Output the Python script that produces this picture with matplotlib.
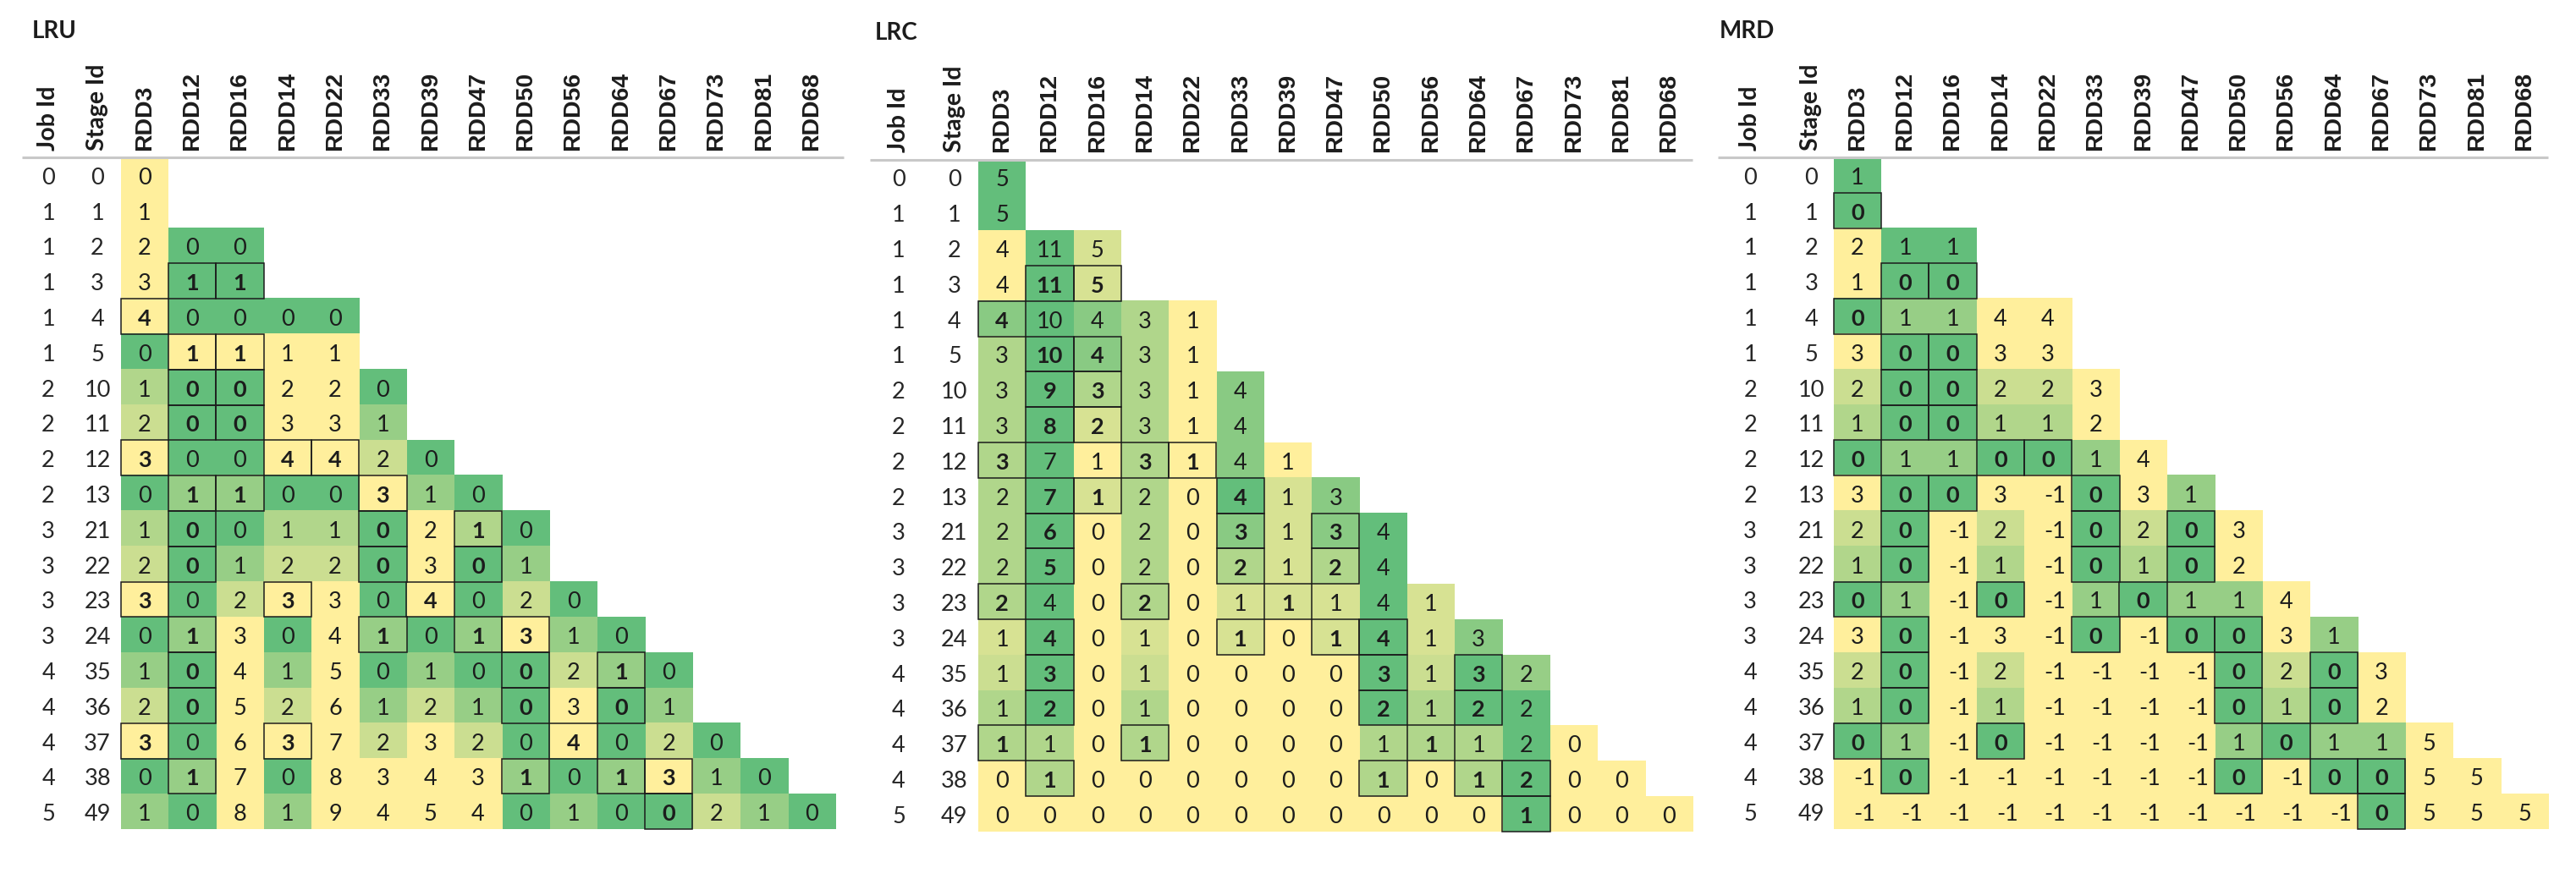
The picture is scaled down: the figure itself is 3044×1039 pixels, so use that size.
import numpy as np
import matplotlib
matplotlib.use('Agg')
import matplotlib.pyplot as plt
from matplotlib.colors import LinearSegmentedColormap
from matplotlib.patches import Rectangle

# Stage rows and RDD columns shared by all three tables
jobs = [0, 1, 1, 1, 1, 1, 2, 2, 2, 2, 3, 3, 3, 3, 4, 4, 4, 4, 5]
stages = [0, 1, 2, 3, 4, 5, 10, 11, 12, 13, 21, 22, 23, 24, 35, 36, 37, 38, 49]
rdds = ["RDD3", "RDD12", "RDD16", "RDD14", "RDD22", "RDD33", "RDD39", "RDD47",
        "RDD50", "RDD56", "RDD64", "RDD67", "RDD73", "RDD81", "RDD68"]

lru = [
    [0],
    [1],
    [2, 0, 0],
    [3, 1, 1],
    [4, 0, 0, 0, 0],
    [0, 1, 1, 1, 1],
    [1, 0, 0, 2, 2, 0],
    [2, 0, 0, 3, 3, 1],
    [3, 0, 0, 4, 4, 2, 0],
    [0, 1, 1, 0, 0, 3, 1, 0],
    [1, 0, 0, 1, 1, 0, 2, 1, 0],
    [2, 0, 1, 2, 2, 0, 3, 0, 1],
    [3, 0, 2, 3, 3, 0, 4, 0, 2, 0],
    [0, 1, 3, 0, 4, 1, 0, 1, 3, 1, 0],
    [1, 0, 4, 1, 5, 0, 1, 0, 0, 2, 1, 0],
    [2, 0, 5, 2, 6, 1, 2, 1, 0, 3, 0, 1],
    [3, 0, 6, 3, 7, 2, 3, 2, 0, 4, 0, 2, 0],
    [0, 1, 7, 0, 8, 3, 4, 3, 1, 0, 1, 3, 1, 0],
    [1, 0, 8, 1, 9, 4, 5, 4, 0, 1, 0, 0, 2, 1, 0],
]

lrc = [
    [5],
    [5],
    [4, 11, 5],
    [4, 11, 5],
    [4, 10, 4, 3, 1],
    [3, 10, 4, 3, 1],
    [3, 9, 3, 3, 1, 4],
    [3, 8, 2, 3, 1, 4],
    [3, 7, 1, 3, 1, 4, 1],
    [2, 7, 1, 2, 0, 4, 1, 3],
    [2, 6, 0, 2, 0, 3, 1, 3, 4],
    [2, 5, 0, 2, 0, 2, 1, 2, 4],
    [2, 4, 0, 2, 0, 1, 1, 1, 4, 1],
    [1, 4, 0, 1, 0, 1, 0, 1, 4, 1, 3],
    [1, 3, 0, 1, 0, 0, 0, 0, 3, 1, 3, 2],
    [1, 2, 0, 1, 0, 0, 0, 0, 2, 1, 2, 2],
    [1, 1, 0, 1, 0, 0, 0, 0, 1, 1, 1, 2, 0],
    [0, 1, 0, 0, 0, 0, 0, 0, 1, 0, 1, 2, 0, 0],
    [0, 0, 0, 0, 0, 0, 0, 0, 0, 0, 0, 1, 0, 0, 0],
]

mrd = [
    [1],
    [0],
    [2, 1, 1],
    [1, 0, 0],
    [0, 1, 1, 4, 4],
    [3, 0, 0, 3, 3],
    [2, 0, 0, 2, 2, 3],
    [1, 0, 0, 1, 1, 2],
    [0, 1, 1, 0, 0, 1, 4],
    [3, 0, 0, 3, -1, 0, 3, 1],
    [2, 0, -1, 2, -1, 0, 2, 0, 3],
    [1, 0, -1, 1, -1, 0, 1, 0, 2],
    [0, 1, -1, 0, -1, 1, 0, 1, 1, 4],
    [3, 0, -1, 3, -1, 0, -1, 0, 0, 3, 1],
    [2, 0, -1, 2, -1, -1, -1, -1, 0, 2, 0, 3],
    [1, 0, -1, 1, -1, -1, -1, -1, 0, 1, 0, 2],
    [0, 1, -1, 0, -1, -1, -1, -1, 1, 0, 1, 1, 5],
    [-1, 0, -1, -1, -1, -1, -1, -1, 0, -1, 0, 0, 5, 5],
    [-1, -1, -1, -1, -1, -1, -1, -1, -1, -1, -1, 0, 5, 5, 5],
]

# RDDs read by each stage (row -> columns), outlined and set in bold
accessed = {
    3: [1, 2], 4: [0], 5: [1, 2], 6: [1, 2], 7: [1, 2],
    8: [0, 3, 4], 9: [1, 2, 5], 10: [1, 5, 7], 11: [1, 5, 7],
    12: [0, 3, 6], 13: [1, 5, 7, 8], 14: [1, 8, 10], 15: [1, 8, 10],
    16: [0, 3, 9], 17: [1, 8, 10, 11], 18: [11],
}
mrd_extra = {1: [0]}

W, H = 3044, 1039
CW, CH = 56.3, 41.8
NR, NC = len(stages), len(rdds)

GREEN, YELLOW = '#63BE7B', '#FFEF9C'
INK = '#1c1c1c'
VAL_SIZE = 19.5


def row_shades(rows, cap, flat):
    # each row gets its own scale; -1 (never reused) counts as the far end
    t = np.full((NR, NC), np.nan)
    for i, row in enumerate(rows):
        vals = np.array(row, dtype=float)
        used = vals[vals >= 0]
        lo, hi = used.min(), used.max()
        for j, v in enumerate(vals):
            if v < 0:
                t[i, j] = 1.0
            elif hi == lo:
                t[i, j] = flat
            else:
                t[i, j] = min((v - lo) / min(hi - lo, cap), 1.0)
    return np.ma.masked_invalid(t)


panels = [
    dict(name='LRU', rows=lru, left=142.7, top=186.0, cap=3, flat=1.0,
         colors=[GREEN, YELLOW], job_x=-1.52, stage_x=-0.49,
         line=(-2.07, 15.18), title_x=-1.86, extra={}),
    dict(name='LRC', rows=lrc, left=1156.0, top=188.7, cap=4, flat=1.0,
         colors=[YELLOW, GREEN], job_x=-1.67, stage_x=-0.50,
         line=(-2.27, 15.0), title_x=-2.18, extra={}),
    dict(name='MRD', rows=mrd, left=2166.7, top=186.0, cap=3, flat=0.0,
         colors=[GREEN, YELLOW], job_x=-1.75, stage_x=-0.47,
         line=(-2.43, 15.0), title_x=-2.40, extra=mrd_extra),
]

fig = plt.figure(figsize=(W / 100, H / 100), dpi=100)
fig.patch.set_facecolor('white')

for p in panels:
    ax = fig.add_axes([p['left'] / W, 1 - (p['top'] + NR * CH) / H,
                       NC * CW / W, NR * CH / H])
    cmap = LinearSegmentedColormap.from_list(p['name'], p['colors'])
    cmap.set_bad((1, 1, 1, 0))
    shades = row_shades(p['rows'], p['cap'], p['flat'])
    ax.imshow(shades, cmap=cmap, vmin=0, vmax=1, extent=(0, NC, NR, 0),
              interpolation='nearest', aspect='auto')
    ax.set_xlim(0, NC)
    ax.set_ylim(NR, 0)
    ax.axis('off')

    boxed = {(i, j) for i, cols in accessed.items() for j in cols}
    boxed |= {(i, j) for i, cols in p['extra'].items() for j in cols}

    for i, row in enumerate(p['rows']):
        for j, v in enumerate(row):
            hit = (i, j) in boxed
            dx = 0.14 if v < 0 else 0.0
            ax.text(j + 0.5 + dx, i + 0.52, str(v), ha='center',
                    va='center_baseline', fontsize=VAL_SIZE, family='Lato',
                    fontweight='bold' if hit else 'normal', color=INK,
                    clip_on=False)
            if hit:
                ax.add_patch(Rectangle((j, i), 1, 1, fill=False,
                                       edgecolor=INK, lw=1.1, zorder=3,
                                       clip_on=False))

    # id columns
    for i, (job, stage) in enumerate(zip(jobs, stages)):
        ax.text(p['job_x'], i + 0.52, str(job), ha='center',
                va='center_baseline', fontsize=VAL_SIZE, family='Lato',
                color='#262626', clip_on=False)
        ax.text(p['stage_x'], i + 0.52, str(stage), ha='center',
                va='center_baseline', fontsize=VAL_SIZE, family='Lato',
                color='#262626', clip_on=False)

    # rotated headers
    ax.text(p['job_x'], -0.2, 'Job Id', rotation=90, ha='center',
            va='bottom', fontsize=20.5, family='Lato', fontweight='bold',
            color=INK, clip_on=False)
    ax.text(p['stage_x'], -0.2, 'Stage Id', rotation=90, ha='center',
            va='bottom', fontsize=20.5, family='Lato', fontweight='bold',
            color=INK, clip_on=False)
    for j, name in enumerate(rdds):
        ax.text(j + 0.5, -0.2, name, rotation=90, ha='center', va='bottom',
                fontsize=20.5, family='Liberation Sans', fontweight='bold',
                color=INK, clip_on=False)

    ax.plot(p['line'], [0, 0], color='#c8c8c8', lw=2.2, clip_on=False,
            solid_capstyle='butt', zorder=4)
    ax.text(p['title_x'], -3.38, p['name'], ha='left', va='baseline',
            fontsize=20, family='Lato', fontweight='bold', color=INK,
            clip_on=False)

fig.savefig('out.png', dpi=100, facecolor='white')
